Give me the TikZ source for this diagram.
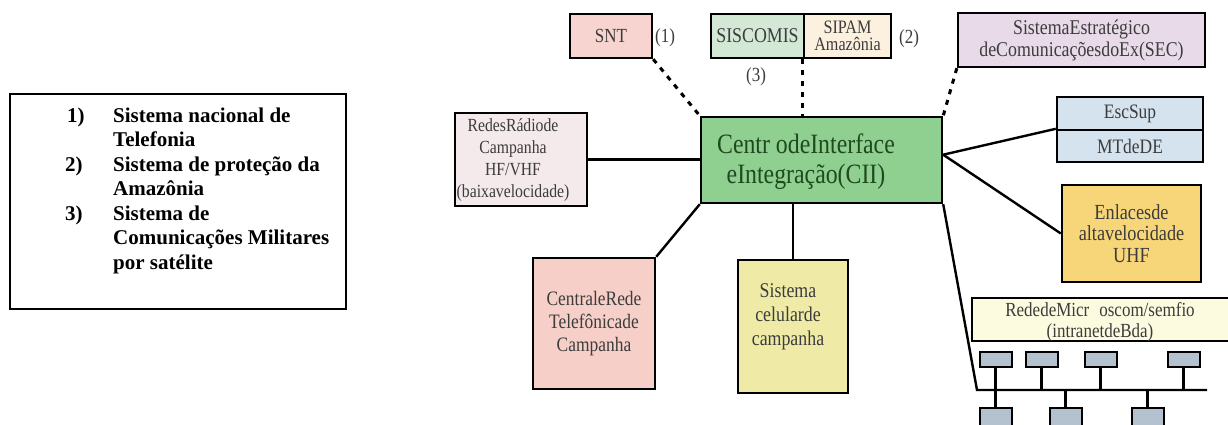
\documentclass[tikz,border=0pt]{standalone}
\usepackage{fontspec}
\setmainfont{Liberation Serif}
\newfontfamily\boxfont[FakeStretch=0.85]{Liberation Serif}
\usetikzlibrary{calc}

\newcommand\setfs[2]{\fontsize{#1}{#2}\selectfont}

\definecolor{boxtext}{HTML}{3C3C3C}
\definecolor{ciitext}{HTML}{1E4A1E}
\definecolor{sntfill}{HTML}{F7D4D0}
\definecolor{sisfill}{HTML}{D3E9D5}
\definecolor{sipfill}{HTML}{FCF1DE}
\definecolor{secfill}{HTML}{E9DAEA}
\definecolor{redfill}{HTML}{F4EAEC}
\definecolor{ciifill}{HTML}{8FCF90}
\definecolor{escfill}{HTML}{D5E3EF}
\definecolor{enlfill}{HTML}{F7D67A}
\definecolor{cenfill}{HTML}{F6D0C8}
\definecolor{celfill}{HTML}{EFEBA6}
\definecolor{redefill}{HTML}{FCFBE0}
\definecolor{pcfill}{HTML}{B3C2CE}

\tikzset{
  box/.style={draw=black, line width=2.4pt, inner sep=0pt, align=center, text=boxtext},
  boxtxt/.style={inner sep=0pt, align=center, text=boxtext},
  tag/.style={inner sep=0pt, text=boxtext, font=\boxfont\setfs{20}{22}},
  wire/.style={line width=2.4pt, draw=black},
  dots/.style={line width=3pt, draw=black, dash pattern=on 5pt off 6pt},
  pc/.style={draw=black, line width=2pt, fill=pcfill, minimum width=32pt,
    minimum height=15pt, inner sep=0pt},
  legtext/.style={inner sep=0pt, anchor=base west, font=\bfseries\setfs{21}{24}},
}

\begin{document}
\begin{tikzpicture}[x=1pt, y=-1pt]
  \clip (0,0) rectangle (1228,425);
  \fill[white] (0,0) rectangle (1228,425);

  % legend
  \node[draw=black, line width=1.8pt, minimum width=336pt, minimum height=215pt,
    anchor=north west, inner sep=0pt] (legend) at (9,93) {};
  \node[legtext] (l1n) at (67,122) {1)};
  \node[legtext] (l1a) at (113,122) {Sistema nacional de};
  \node[legtext] (l1b) at (113,146.5) {Telefonia};
  \node[legtext] (l2n) at (65,171) {2)};
  \node[legtext] (l2a) at (113,171) {Sistema de proteção da};
  \node[legtext] (l2b) at (113,195.5) {Amazônia};
  \node[legtext] (l3n) at (65,220) {3)};
  \node[legtext] (l3a) at (113,220) {Sistema de};
  \node[legtext] (l3b) at (113,244.5) {Comunicações Militares};
  \node[legtext] (l3c) at (113,269) {por satélite};

  % top row of systems
  \node[box, fill=sntfill, minimum width=82pt, minimum height=44pt,
    font=\boxfont\setfs{20}{22}] (snt) at (611,36) {SNT};
  \node[box, fill=sisfill, minimum width=93pt, minimum height=44pt,
    font=\boxfont\setfs{21}{22}] (siscomis) at (757.5,36) {SISCOMIS};
  \node[box, fill=sipfill, minimum width=87pt, minimum height=44pt,
    font=\boxfont\setfs{19}{17}] (sipam) at (847.5,36) {SIPAM\\Amazônia};
  \node[box, fill=secfill, minimum width=247pt, minimum height=54pt,
    font=\boxfont\setfs{21}{22}] (sec) at (1081.5,40)
    {SistemaEstratégico\\deComunicaçõesdoEx(SEC)};
  \node[tag] (t1) at (665,38) {(1)};
  \node[tag] (t2) at (909,39) {(2)};
  \node[tag] (t3) at (756,77) {(3)};

  % central node
  \node[box, fill=ciifill, minimum width=241pt, minimum height=86pt] (cii) at (821.5,160) {};
  \node[boxtxt, text=ciitext, font=\boxfont\setfs{28}{30}] (ciitxt) at (806,162)
    {Centr odeInterface\\eIntegração(CII)};

  % left and bottom systems
  \node[box, fill=redfill, minimum width=132pt, minimum height=93pt] (redes) at (521,159.5) {};
  \node[boxtxt, font=\boxfont\setfs{18.5}{22}] (redestxt) at (513,160)
    {RedesRádiode\\Campanha\\HF/VHF\\(baixavelocidade)};
  \node[box, fill=cenfill, minimum width=122pt, minimum height=131pt,
    font=\boxfont\setfs{20.5}{23}] (central) at (594,323.5)
    {CentraleRede\\Telefônicade\\Campanha};
  \node[box, fill=celfill, minimum width=110pt, minimum height=133pt] (cel) at (793,326.5) {};
  \node[boxtxt, font=\boxfont\setfs{21}{24}] (celtxt) at (788,317)
    {Sistema\\celularde\\campanha};

  % right side systems
  \node[box, fill=escfill, minimum width=146pt, minimum height=33pt,
    font=\boxfont\setfs{20.5}{22}] (esc) at (1130,113.5) {EscSup};
  \node[box, fill=escfill, minimum width=146pt, minimum height=32pt,
    font=\boxfont\setfs{20.5}{22}] (mtde) at (1130,146) {MTdeDE};
  \node[box, fill=enlfill, minimum width=139pt, minimum height=97pt,
    font=\boxfont\setfs{21.5}{21.5}] (enl) at (1131.5,233.5)
    {Enlacesde\\altavelocidade\\UHF};
  \node[box, fill=redefill, minimum width=268pt, minimum height=43pt] (rede) at (1106,319.5) {};
  \node[boxtxt, font=\boxfont\setfs{20}{21}] (redetxt) at (1100,322)
    {RededeMicr\hspace{10pt}oscom/semfio\\(intranetdeBda)};

  % local network
  \coordinate (busL) at (977,390);
  \coordinate (busR) at (1207,390);
  \node[pc] (p1) at (995.5,359.5) {};
  \node[pc] (p2) at (1041.5,359.5) {};
  \node[pc] (p3) at (1100.5,359.5) {};
  \node[pc] (p4) at (1183.5,359.5) {};
  \node[pc, minimum height=20pt] (p5) at (995.5,418) {};
  \node[pc, minimum height=20pt] (p6) at (1065.5,418) {};
  \node[pc, minimum height=20pt] (p7) at (1147.5,418) {};

  % connectors
  \coordinate (cr) at ($(cii.north east)!0.44!(cii.south east)$);
  \draw[dots] (snt.south east) -- (cii.north west);
  \draw[dots] (sipam.south west) -- (sipam.south west |- cii.north);
  \draw[dots] (sec.south west) -- (cii.north east);
  \draw[wire] (redes.east) -- (redes.east -| cii.west);
  \draw[wire] (cii.south west) -- (central.north east);
  \draw[wire] (cel.north |- cii.south) -- (cel.north);
  \draw[wire] (cr) -- (mtde.north west);
  \draw[wire] (cr) -- (enl.west);
  \draw[wire] (cii.south east) -- (busL) -- (busR);
  \foreach \p in {p1,p2,p3,p4} \draw[wire] (\p.south) -- (\p.south |- busL);
  \foreach \p in {p5,p6,p7} \draw[wire] (\p.north) -- (\p.north |- busL);
\end{tikzpicture}
\end{document}
